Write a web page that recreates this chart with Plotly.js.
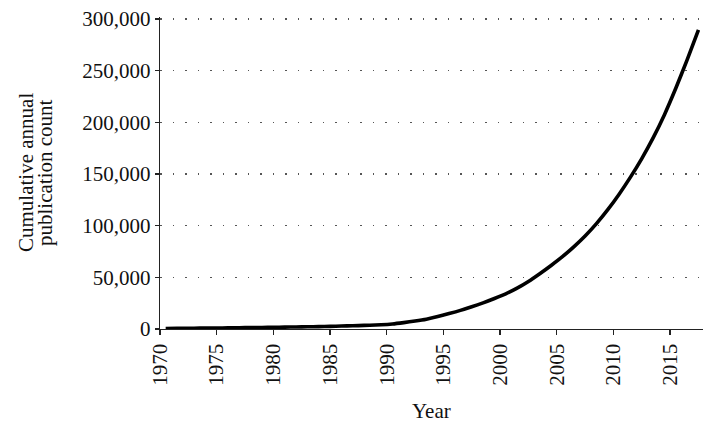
<!DOCTYPE html>
<html>
<head>
<meta charset="utf-8">
<script src="https://cdn.plot.ly/plotly-3.0.1.min.js"></script>
<style>
  html, body { margin: 0; padding: 0; background: #fff; }
  #chart { width: 718px; height: 432px; }
</style>
</head>
<body>
<div id="chart"></div>
<script>
// Data
const years = [
  1970, 1971, 1972, 1973, 1974, 1975, 1976, 1977, 1978, 1979,
  1980, 1981, 1982, 1983, 1984, 1985, 1986, 1987, 1988, 1989,
  1990, 1991, 1992, 1993, 1994, 1995, 1996, 1997, 1998, 1999,
  2000, 2001, 2002, 2003, 2004, 2005, 2006, 2007, 2008, 2009,
  2010, 2011, 2012, 2013, 2014, 2015, 2016, 2017
];
const cumulativeCount = [
  500, 600, 700, 800, 900, 1000, 1150, 1300, 1450, 1600,
  1750, 1900, 2050, 2250, 2450, 2700, 3000, 3300, 3650, 4100,
  4900, 6200, 7700, 9500, 12000, 14900, 18000, 21500, 25300, 29500,
  34000, 39500, 46000, 53500, 61500, 70000, 79500, 90000, 102000, 115500,
  130500, 147000, 165000, 185000, 207500, 233000, 260500, 289500
];
const tickYears = [1970, 1975, 1980, 1985, 1990, 1995, 2000, 2005, 2010, 2015];
const yTicks = [0, 50000, 100000, 150000, 200000, 250000, 300000];
const xTitle = "Year";
const yTitleLines = ["Cumulative annual", "publication count"];

const FONT = "Liberation Serif, Times New Roman, serif";
const TXT = "#111111";

const trace = {
  x: years,
  y: cumulativeCount,
  type: "scatter",
  mode: "lines",
  line: { color: "#000000", width: 3.6, shape: "spline", smoothing: 0.6 },
  hoverinfo: "x+y"
};

const layout = {
  width: 718,
  height: 432,
  margin: { l: 160, r: 15, t: 17, b: 103 },
  paper_bgcolor: "#ffffff",
  plot_bgcolor: "#ffffff",
  showlegend: false,
  font: { family: FONT, size: 21, color: TXT },
  xaxis: {
    type: "linear",
    range: [1969.5, 2017.4],
    tickmode: "array",
    tickvals: tickYears.map(function (y) { return y - 0.5; }),
    ticktext: tickYears.map(String),
    tickangle: -90,
    ticks: "outside",
    ticklen: 5,
    tickwidth: 1.3,
    tickcolor: "#222222",
    showline: true,
    linecolor: "#222222",
    linewidth: 1.3,
    showgrid: false,
    zeroline: false,
    tickfont: { family: FONT, size: 21, color: TXT },
    automargin: false
  },
  yaxis: {
    range: [0, 302000],
    tickmode: "array",
    tickvals: yTicks,
    tickformat: ",d",
    ticks: "outside",
    ticklen: 4,
    tickwidth: 1.3,
    tickcolor: "#222222",
    showline: true,
    linecolor: "#222222",
    linewidth: 1.3,
    showgrid: true,
    gridcolor: "#555555",
    gridwidth: 1.5,
    griddash: "1.5px,11px",
    zeroline: false,
    tickfont: { family: FONT, size: 21, color: TXT },
    automargin: false
  },
  annotations: [
    {
      text: xTitle, xref: "paper", yref: "paper", x: 0.5, y: 0,
      xanchor: "center", yanchor: "middle", yshift: -82,
      showarrow: false, font: { family: FONT, size: 21, color: TXT }
    },
    {
      text: yTitleLines[0], xref: "paper", yref: "paper", x: 0, y: 0.5,
      xanchor: "center", yanchor: "middle", xshift: -134, textangle: -90,
      showarrow: false, font: { family: FONT, size: 21, color: TXT }
    },
    {
      text: yTitleLines[1], xref: "paper", yref: "paper", x: 0, y: 0.5,
      xanchor: "center", yanchor: "middle", xshift: -115, textangle: -90,
      showarrow: false, font: { family: FONT, size: 21, color: TXT }
    }
  ]
};

Plotly.newPlot("chart", [trace], layout, { displayModeBar: false, staticPlot: true });
</script>
</body>
</html>
